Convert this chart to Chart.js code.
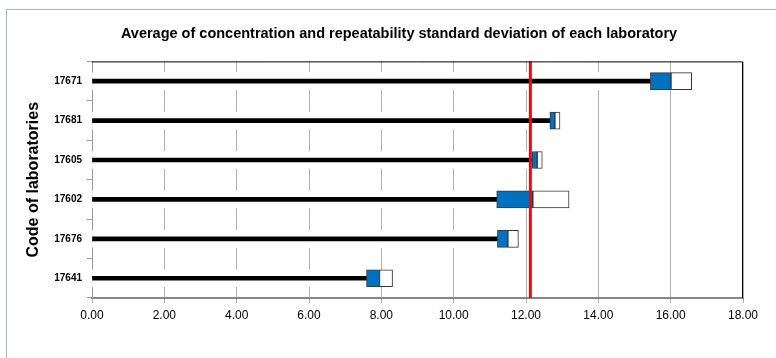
<!DOCTYPE html>
<html>
<head>
<meta charset="utf-8">
<script src="https://cdn.jsdelivr.net/npm/chart.js@4.4.1/dist/chart.umd.min.js"></script>
<style>
    body { margin: 0; background: #fff; }
    #wrap { position: relative; width: 776px; height: 358px; overflow: hidden; }
    #frame { position: absolute; left: 6px; top: 9px; width: 900px; height: 500px;
             border-left: 1px solid #a7b6cc; border-top: 1px solid #a7b6cc; pointer-events: none; }
</style>
</head>
<body>
<div id="wrap">
    <canvas id="labChart" width="776" height="358"></canvas>
    <div id="frame"></div>
</div>
<script>
// lab codes, top to bottom
const labs = ['17671', '17681', '17605', '17602', '17676', '17641'];
// average concentration of each lab
const means = [16.01, 12.80, 12.31, 12.19, 11.50, 7.95];
// repeatability standard deviation
const sds = [0.57, 0.14, 0.14, 1.00, 0.29, 0.36];
// overall reference value (red line)
const refValue = 12.12;
const xTicks = [0, 2, 4, 6, 8, 10, 12, 14, 16, 18];

const FONT = "'Liberation Sans', Arial, sans-serif";

const lowEnds = means.map((m, i) => [0, m - sds[i]]);
const lowBoxes = means.map((m, i) => [m - sds[i], m]);
const highBoxes = means.map((m, i) => [m, m + sds[i]]);

// frame on top/right of plot + reference line
const extras = {
    id: 'extras',
    afterDatasetsDraw(chart) {
        const { ctx, chartArea: a, scales: { x } } = chart;
        const px = x.getPixelForValue(refValue);
        ctx.save();
        ctx.strokeStyle = '#ff0000';
        ctx.lineWidth = 3;
        ctx.beginPath();
        ctx.moveTo(px, a.top);
        ctx.lineTo(px, a.bottom);
        ctx.stroke();
        ctx.strokeStyle = '#000';
        ctx.lineWidth = 1;
        ctx.beginPath();
        ctx.moveTo(a.left, a.top + 0.5);
        ctx.lineTo(a.right - 0.5, a.top + 0.5);
        ctx.lineTo(a.right - 0.5, a.bottom);
        ctx.stroke();
        ctx.restore();
    }
};

new Chart(document.getElementById('labChart').getContext('2d'), {
    type: 'bar',
    data: {
        labels: labs,
        datasets: [
            {   // white band behind the black line (hides gridlines)
                data: lowEnds,
                backgroundColor: '#fff',
                barThickness: 17,
                grouped: false,
                order: 4
            },
            {
                data: lowEnds,
                backgroundColor: '#000',
                barThickness: 4,
                grouped: false,
                order: 3
            },
            {
                data: lowBoxes,
                backgroundColor: '#0070c0',
                borderColor: '#2b3a4a',
                borderWidth: 1,
                borderSkipped: false,
                barThickness: 17,
                grouped: false,
                order: 2
            },
            {
                data: highBoxes,
                backgroundColor: '#fff',
                borderColor: '#333',
                borderWidth: 1,
                borderSkipped: false,
                barThickness: 17,
                grouped: false,
                order: 1
            }
        ]
    },
    options: {
        indexAxis: 'y',
        responsive: false,
        animation: false,
        // left padding shifts the title centre to match the original
        layout: { padding: { left: 55, right: 33, top: 0, bottom: 0 } },
        plugins: {
            legend: { display: false },
            tooltip: { enabled: false },
            title: {
                display: true,
                text: 'Average of concentration and repeatability standard deviation of each laboratory',
                color: '#000',
                font: { family: FONT, size: 14.5, weight: 'bold' },
                padding: { top: 25, bottom: 19 }
            }
        },
        scales: {
            x: {
                min: 0,
                max: 18,
                afterBuildTicks: (s) => { s.ticks = xTicks.map(v => ({ value: v })); },
                afterFit: (s) => { s.height = 60; },
                ticks: {
                    callback: (v) => Number(v).toFixed(2),
                    color: '#000',
                    font: { family: FONT, size: 12 },
                    padding: 5,
                    maxRotation: 0
                },
                grid: { color: '#b0b0b0', lineWidth: 1, tickLength: 5 },
                border: { color: '#888', width: 2 }
            },
            y: {
                afterFit: (s) => { s.width = 37; },
                ticks: {
                    color: '#000',
                    font: { family: FONT, size: 10, weight: 'bold' },
                    padding: 5
                },
                grid: { drawOnChartArea: false, tickLength: 5, color: '#999' },
                border: { color: '#999', width: 1 },
                title: {
                    display: true,
                    text: 'Code of laboratories',
                    color: '#000',
                    font: { family: FONT, size: 16, weight: 'bold' },
                    padding: { top: -31, bottom: 0 }
                }
            }
        }
    },
    plugins: [extras]
});
</script>
</body>
</html>
